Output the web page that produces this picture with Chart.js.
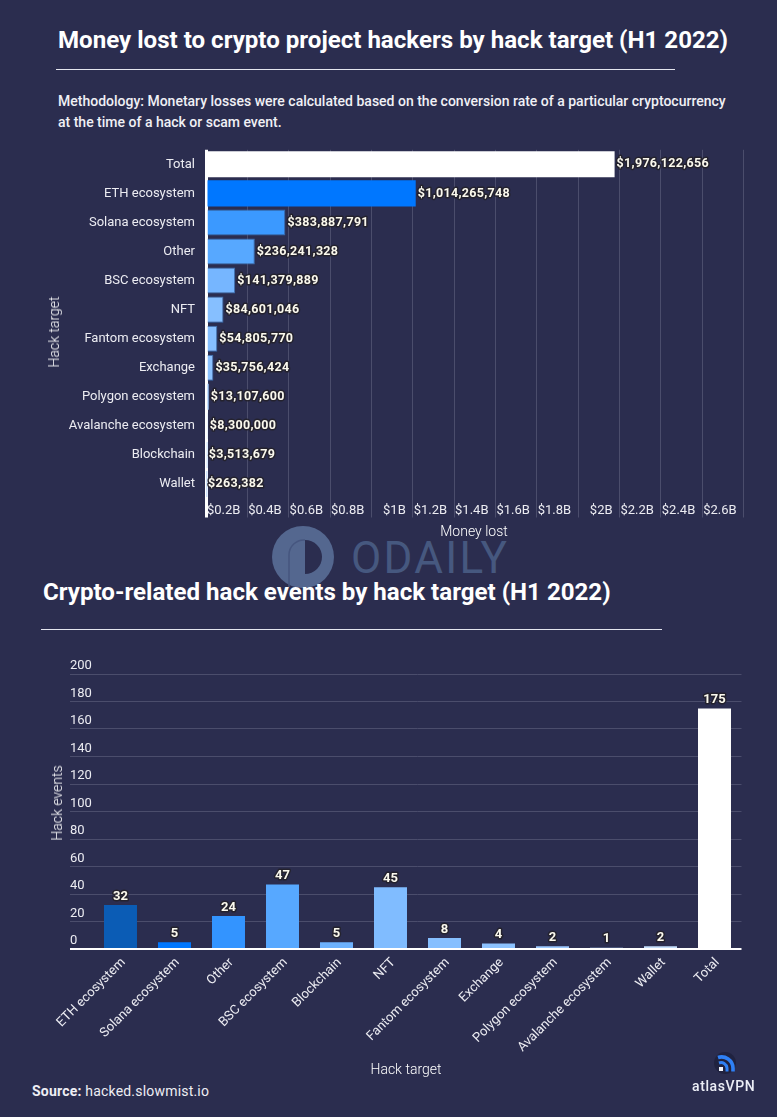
<!DOCTYPE html>
<html lang="en">
<head>
    <meta charset="UTF-8">
    <title>Crypto hacks by target</title>
    <script src="https://cdn.jsdelivr.net/npm/chart.js"></script>
    <style>
        html, body { margin: 0; padding: 0; background: #2b2d4f; }
        #page { position: relative; width: 777px; height: 1117px; overflow: hidden; background: #2b2d4f; font-family: Roboto, sans-serif; color: #fff; }
        #page > * { position: absolute; }
        canvas { left: 0; }
        .title { font-weight: 700; font-size: 24.1px; line-height: 30px; white-space: nowrap; }
        .rule { height: 1px; background: #e4e5ee; }
        .note { left: 58px; top: 91px; font-size: 14px; font-weight: 500; line-height: 21px; color: #f0f0f5; white-space: nowrap; }
        .source { left: 32px; top: 1083px; font-size: 14px; color: #eeeef4; white-space: nowrap; letter-spacing: .2px; }
        .axis { font-size: 14px; font-weight: 300; line-height: 16px; color: #ffffff; white-space: nowrap; transform: translate(-50%, -50%); }
        .axis.side { transform: translate(-50%, -50%) rotate(-90deg); }
        .mark { left: 272px; top: 525px; }
        .mark-text { left: 351px; top: 533px; font-size: 44px; line-height: 50px; color: #46587f; letter-spacing: 2.3px; }
        .logo-text { left: 692px; top: 1078px; font-size: 14px; line-height: 16px; font-weight: 500; letter-spacing: .6px; color: #eceef6; }
    </style>
</head>
<body>
<div id="page">
    <svg class="mark" width="64" height="66" viewBox="0 0 64 66">
        <circle cx="31" cy="32" r="31" fill="#54678f"/>
        <path d="M33 15a17 17 0 0 1 0 34z" fill="#2b2d4f"/>
        <path d="M17 62V30a15 15 0 0 1 16-15" fill="none" stroke="#46567f" stroke-width="1.500"/>
    </svg>
    <div class="mark-text">ODAILY</div>

    <div class="title" style="left:58px;top:25px">Money lost to crypto project hackers by hack target (H1 2022)</div>
    <div class="rule" style="left:56px;top:69px;width:619px"></div>
    <div class="note">Methodology: Monetary losses were calculated based on the conversion rate of a particular cryptocurrency<br>at the time of a hack or scam event.</div>

    <canvas id="lossChart" width="777" height="409" style="top:131px"></canvas>
    <div class="axis side" style="left:54px;top:332px">Hack target</div>
    <div class="axis" style="left:474px;top:531px">Money lost</div>

    <div class="title" style="left:43px;top:577px">Crypto-related hack events by hack target (H1 2022)</div>
    <div class="rule" style="left:41px;top:629px;width:621px"></div>

    <canvas id="eventChart" width="777" height="430" style="top:650px"></canvas>
    <div class="axis side" style="left:57px;top:803px">Hack events</div>
    <div class="axis" style="left:406px;top:1069px">Hack target</div>

    <div class="source"><b>Source:</b> hacked.slowmist.io</div>
    <svg style="left:714px;top:1052px" width="22" height="22" viewBox="0 0 22 22">
        <circle cx="11" cy="11" r="11" fill="#20223f"/>
        <path d="M4 5.500a11.500 11.500 0 0 1 15 10.500v3.500" fill="none" stroke="#2f80f5" stroke-width="3.600"/>
        <path d="M5 11a6 6 0 0 1 8 5v3.500" fill="none" stroke="#2f80f5" stroke-width="3"/>
        <rect x="5" y="15" width="4" height="4" fill="#f2f4fa"/>
    </svg>
    <div class="logo-text">atlasVPN</div>
</div>

<script>
    const lossLabels = ['Total', 'ETH ecosystem', 'Solana ecosystem', 'Other', 'BSC ecosystem', 'NFT', 'Fantom ecosystem', 'Exchange', 'Polygon ecosystem', 'Avalanche ecosystem', 'Blockchain', 'Wallet'];
    const lossValues = [1976122656, 1014265748, 383887791, 236241328, 141379889, 84601046, 54805770, 35756424, 13107600, 8300000, 3513679, 263382];
    const lossColors = ['#ffffff', '#0077ff', '#3b99ff', '#57a8ff', '#76b6ff', '#86bfff', '#86bfff', '#8cc2ff', '#9cc9ff', '#a8d0ff', '#b8d8ff', '#cfe4ff'];

    const eventLabels = ['ETH ecosystem', 'Solana ecosystem', 'Other', 'BSC ecosystem', 'Blockchain', 'NFT', 'Fantom ecosystem', 'Exchange', 'Polygon ecosystem', 'Avalanche ecosystem', 'Wallet', 'Total'];
    const eventValues = [32, 5, 24, 47, 5, 45, 8, 4, 2, 1, 2, 175];
    const eventColors = ['#0b5cb5', '#0077ff', '#3394ff', '#57a8ff', '#6db2ff', '#80bcff', '#86bfff', '#8cc2ff', '#9cc9ff', '#a8d0ff', '#c5dffd', '#ffffff'];

    const GRID = '#4b4d6c';
    const TEXT = '#ececf2';

    // value labels on the bars, no datalabels plugin available here
    const valueLabels = {
        id: 'valueLabels',
        afterDatasetsDraw(chart, args, opts) {
            const ctx = chart.ctx;
            const bars = chart.getDatasetMeta(0).data;
            ctx.save();
            ctx.font = '700 ' + opts.size + 'px Roboto';
            ctx.letterSpacing = opts.spacing;
            ctx.lineJoin = 'round';
            bars.forEach((bar, i) => {
                const value = chart.data.datasets[0].data[i];
                const text = opts.format(value);
                const x = opts.horizontal ? bar.x + 2 : bar.x;
                const y = opts.horizontal ? bar.y : bar.y - 8.5;
                ctx.textAlign = opts.horizontal ? 'left' : 'center';
                ctx.textBaseline = 'middle';
                ctx.strokeStyle = 'rgba(35,33,40,.85)';
                ctx.lineWidth = 3;
                ctx.strokeText(text, x, y);
                ctx.fillStyle = '#fbf9ee';
                ctx.fillText(text, x, y);
            });
            ctx.restore();
        }
    };

    new Chart(document.getElementById('lossChart'), {
        type: 'bar',
        plugins: [valueLabels],
        data: {
            labels: lossLabels,
            datasets: [{
                data: lossValues,
                backgroundColor: lossColors,
                borderColor: '#3a6cae',
                borderWidth: lossValues.map((v, i) => i < 2 || i > 7 ? 0 : 1),
                barPercentage: 0.8966,
                categoryPercentage: 1
            }]
        },
        options: {
            indexAxis: 'y',
            responsive: false,
            animation: false,
            layout: { autoPadding: false, padding: { left: 0, right: 33.4, top: 18.5, bottom: 0 } },
            plugins: {
                legend: { display: false },
                tooltip: { enabled: false },
                valueLabels: { horizontal: true, size: 12.5, spacing: '0.3px', format: v => '$' + v.toLocaleString('en-US') }
            },
            scales: {
                y: {
                    afterFit: s => { s.width = 206; },
                    grid: { display: false, drawTicks: false },
                    border: { display: false },
                    ticks: { color: TEXT, padding: 11, autoSkip: false, font: { family: 'Roboto', size: 13 } }
                },
                x: {
                    min: 0,
                    max: 2600000000,
                    afterFit: s => { s.height = 41.5; },
                    border: { display: false },
                    grid: {
                        color: c => c.tick && c.tick.value === 0 ? '#ffffff' : GRID,
                        lineWidth: c => c.tick && c.tick.value === 0 ? 3 : 1,
                        tickLength: 19
                    },
                    ticks: {
                        stepSize: 200000000,
                        autoSkip: false,
                        maxRotation: 0,
                        align: 'end',
                        labelOffset: -7,
                        padding: -15,
                        color: TEXT,
                        font: { family: 'Roboto', size: 13 },
                        callback: v => v === 0 ? '' : '$' + (v / 1e9) + 'B'
                    }
                }
            }
        }
    });

    new Chart(document.getElementById('eventChart'), {
        type: 'bar',
        plugins: [valueLabels],
        data: {
            labels: eventLabels,
            datasets: [{
                data: eventValues,
                backgroundColor: eventColors,
                barPercentage: 0.611,
                categoryPercentage: 1
            }]
        },
        options: {
            responsive: false,
            animation: false,
            layout: { autoPadding: false, padding: { left: 70, right: 35.5, top: 24, bottom: 0 } },
            plugins: {
                legend: { display: false },
                tooltip: { enabled: false },
                valueLabels: { horizontal: false, size: 13, spacing: '0px', format: v => String(v) }
            },
            scales: {
                y: {
                    min: 0,
                    max: 200,
                    afterFit: s => { s.width = 23.5; },
                    border: { display: false },
                    grid: {
                        color: c => c.tick && c.tick.value === 0 ? '#ffffff' : GRID,
                        lineWidth: c => c.tick && c.tick.value === 0 ? 2 : 1,
                        tickLength: 23.5
                    },
                    ticks: {
                        stepSize: 20,
                        crossAlign: 'far',
                        labelOffset: -8,
                        color: TEXT,
                        font: { family: 'Roboto', size: 13 }
                    }
                },
                x: {
                    afterFit: s => { s.height = 131; },
                    border: { display: false },
                    grid: { display: false },
                    ticks: {
                        autoSkip: false,
                        minRotation: 45,
                        maxRotation: 45,
                        padding: -2,
                        labelOffset: 3,
                        color: TEXT,
                        font: { family: 'Roboto', size: 13 }
                    }
                }
            }
        }
    });
</script>
</body>
</html>
